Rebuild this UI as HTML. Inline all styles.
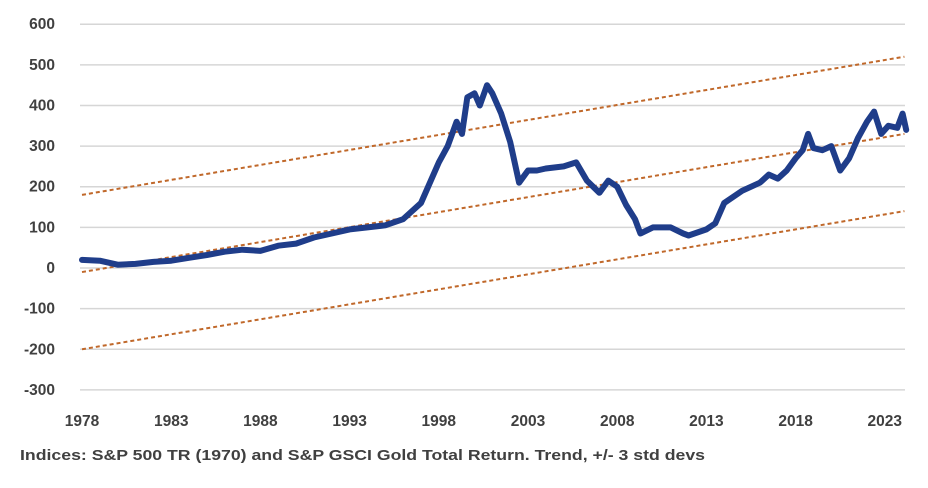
<!DOCTYPE html>
<html><head><meta charset="utf-8"><style>
body{margin:0;background:#fff;width:928px;height:483px;overflow:hidden}
svg text{font-family:"Liberation Sans",sans-serif;font-weight:bold;fill:#404040}
</style></head><body>
<svg id="c" width="928" height="483">
<g id="grid"></g><g id="trend"></g><g id="series"></g><g id="labels"></g>
<text x="20" y="460" font-size="15" textLength="685" lengthAdjust="spacingAndGlyphs">Indices: S&amp;P 500 TR (1970) and S&amp;P GSCI Gold Total Return. Trend, +/- 3 std devs</text>
</svg>
<script>
const yTicks=[600,500,400,300,200,100,0,-100,-200,-300];
const xTicks=[1978,1983,1988,1993,1998,2003,2008,2013,2018,2023];
const years=[1978,1979,1980,1981,1982,1983,1984,1985,1986,1987,1988,1989,1990,1991,1992,1993,1994,1995,1996,1997,1998,1998.5,1999,1999.3,1999.6,2000,2000.3,2000.7,2001,2001.5,2002,2002.5,2003,2003.5,2004,2005,2005.7,2006.3,2007,2007.5,2008,2008.5,2009,2009.3,2010,2011,2011.7,2012,2013,2013.5,2014,2015,2016,2016.5,2017,2017.5,2018,2018.4,2018.7,2019,2019.5,2020,2020.5,2021,2021.5,2022,2022.4,2022.8,2023.2,2023.7,2024,2024.2];
const values=[20,18,8,10,15,18,25,32,40,45,42,55,60,75,85,95,100,105,120,160,260,300,360,330,420,430,400,450,430,380,310,210,240,240,245,250,260,215,185,215,200,155,120,85,100,100,85,80,95,110,160,190,210,230,220,240,270,290,330,295,290,300,240,270,320,360,385,330,350,345,380,340];
const trendStart=[1978,-10];
const trendEnd=[2024.1,330];
const trendOffsets=[190,0,-190];
const x=v=>82+(v-1978)*17.84;
const y=v=>268-(v)*0.4063;
const NS='http://www.w3.org/2000/svg';
function mk(t,p,a){const e=document.createElementNS(NS,t);for(const k in a)e.setAttribute(k,a[k]);document.getElementById(p).appendChild(e);return e;}
yTicks.forEach(t=>{
 const l=mk('line','grid',{x1:80,x2:905,y1:y(t),y2:y(t),stroke:'#d6d6d6','stroke-width':1.5});
 
 
 const tx=mk('text','labels',{x:55,y:y(t)+5,'text-anchor':'end','font-size':15.5});
 tx.textContent=t;
 
 
});
xTicks.forEach(t=>{
 const tx=mk('text','labels',{x:x(t),y:426,'text-anchor':'middle','font-size':15.5});
 tx.textContent=t;
 
 
});
trendOffsets.forEach((o,i)=>{
 const l=mk('line','trend',{x1:x(trendStart[0]),y1:y(trendStart[1]+o),x2:x(trendEnd[0]),y2:y(trendEnd[1]+o),stroke:'#c0682a','stroke-width':2,'stroke-dasharray':'4 3'});
 
 
});
const p=mk('path','series',{d:years.map((v,i)=>(i?'L':'M')+x(v).toFixed(1)+','+y(values[i]).toFixed(1)).join(''),fill:'none',stroke:'#1f3d8a','stroke-width':6,'stroke-linejoin':'round','stroke-linecap':'round'});


</script>
</body></html>
